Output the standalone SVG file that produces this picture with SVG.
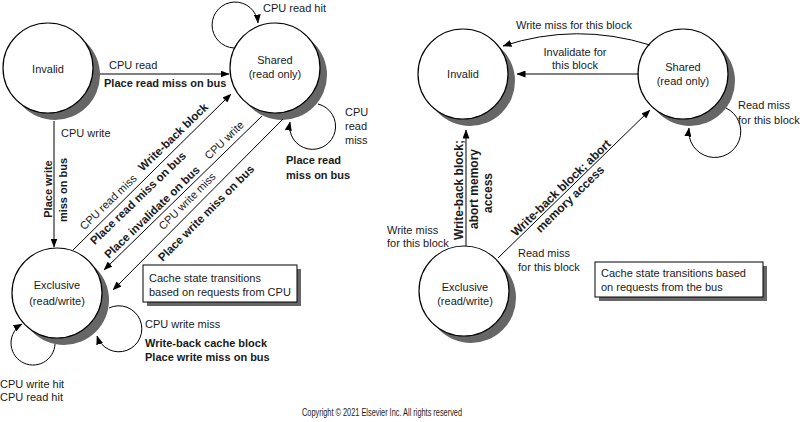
<svg xmlns="http://www.w3.org/2000/svg" width="800" height="422" viewBox="0 0 800 422">
<defs>
<marker id="ah" markerWidth="9" markerHeight="7" refX="8.5" refY="3.5" orient="auto" markerUnits="userSpaceOnUse"><path d="M0,0 L9,3.5 L0,7 z" fill="#000"/></marker>
</defs>
<style>
text{font-family:"Liberation Sans",Arial,sans-serif;font-size:11px;fill:#1a1a1a}
.b{font-weight:bold}
.b12{font-weight:bold;font-size:12px}
.bd{font-weight:bold;font-size:11.5px}
.m{text-anchor:middle}
.sh{fill:#666}
.st{fill:#fff;stroke:#000;stroke-width:1.2}
.c{fill:none;stroke:#000;stroke-width:1}
.a{marker-end:url(#ah)}
.box{fill:#fff;stroke:#000;stroke-width:1}
</style>
<rect width="800" height="422" fill="#fff"/>

<g id="L-invalid">
<circle class="sh" cx="55" cy="75" r="45"/>
<circle class="st" cx="48" cy="68" r="45"/>
<text class="m" x="48" y="73">Invalid</text>
</g>
<g id="L-shared">
<circle class="sh" cx="282" cy="75" r="45"/>
<circle class="st" cx="275" cy="68" r="45"/>
<text class="m" x="275" y="64">Shared</text>
<text class="m" x="275" y="78">(read only)</text>
</g>
<g id="L-exclusive">
<circle class="sh" cx="64" cy="300" r="45"/>
<circle class="st" cx="57" cy="293" r="45"/>
<text class="m" x="57" y="289">Exclusive</text>
<text class="m" x="57" y="305">(read/write)</text>
</g>
<g id="L-note">
<rect class="sh" x="147" y="269" width="154" height="37"/>
<rect class="box" x="143" y="265" width="154" height="37"/>
<text x="149" y="282">Cache state transitions</text>
<text x="149" y="296">based on requests from CPU</text>
</g>

<g id="R-invalid">
<circle class="sh" cx="470" cy="81" r="45"/>
<circle class="st" cx="463" cy="74" r="45"/>
<text class="m" x="463" y="78">Invalid</text>
</g>
<g id="R-shared">
<circle class="sh" cx="690" cy="81" r="45"/>
<circle class="st" cx="683" cy="74" r="45"/>
<text class="m" x="683" y="71">Shared</text>
<text class="m" x="683" y="85">(read only)</text>
</g>
<g id="R-exclusive">
<circle class="sh" cx="471" cy="298" r="45"/>
<circle class="st" cx="464" cy="291" r="45"/>
<text class="m" x="465" y="291">Exclusive</text>
<text class="m" x="465" y="305">(read/write)</text>
</g>
<g id="R-note">
<rect class="sh" x="599" y="266" width="168" height="35"/>
<rect class="box" x="595" y="262" width="168" height="35"/>
<text x="601" y="277">Cache state transitions based</text>
<text x="601" y="291">on requests from the bus</text>
</g>

<g id="connectors">
<path class="c a" d="M100,74 H229"/>
<path class="c a" d="M54,121 V247"/>
<path class="c a" d="M73,250 L231,94"/>
<path class="c a" d="M262,116 L104,270"/>
<path class="c a" d="M283,119 L113,290"/>
<path class="c a" d="M234,48 A23 23 0 1 1 258,23"/>
<path class="c a" d="M318,104 A23 23 0 1 1 290,122"/>
<path class="c a" d="M55,344 A22 22 0 1 1 22,324"/>
<path class="c a" d="M109,308 A23 23 0 1 1 97,336"/>

<path class="c a" d="M650,45 Q576,22 503,46"/>
<path class="c a" d="M639,74 H517"/>
<path class="c a" d="M466,246 V130"/>
<path class="c a" d="M498,258 L650,110"/>
<path class="c a" d="M726,108 A26 26 0 1 1 689,128"/>
</g>

<g id="labels">
<text x="263" y="12">CPU read hit</text>
<text x="109" y="69">CPU read</text>
<text class="b" x="104" y="87">Place read miss on bus</text>
<text x="61" y="137">CPU write</text>
<text class="b m" transform="translate(52,189) rotate(-90)">Place write</text>
<text class="b m" transform="translate(67,190) rotate(-90)">miss on bus</text>

<text class="m" transform="translate(108,202) rotate(-44)" y="4">CPU read miss</text>
<text class="bd m" transform="translate(173,137) rotate(-44)" y="4">Write-back block</text>
<text class="bd m" transform="translate(138,198) rotate(-44)" y="4">Place read miss on bus</text>
<text class="bd m" transform="translate(152,212) rotate(-44)" y="4">Place invalidate on bus</text>
<text class="m" transform="translate(224,140) rotate(-44)" y="4">CPU write</text>
<text class="m" transform="translate(187,201) rotate(-45)" y="4">CPU write miss</text>
<text class="bd m" transform="translate(206,213) rotate(-45)" y="4">Place write miss on bus</text>

<text x="345" y="116">CPU</text>
<text x="345" y="130">read</text>
<text x="345" y="144">miss</text>
<text class="b" x="286" y="164">Place read</text>
<text class="b" x="286" y="179">miss on bus</text>

<text x="145" y="328">CPU write miss</text>
<text class="b" x="145" y="347">Write-back cache block</text>
<text class="b" x="145" y="361">Place write miss on bus</text>
<text x="0" y="388">CPU write hit</text>
<text x="0" y="401">CPU read hit</text>

<text x="516" y="29">Write miss for this block</text>
<text class="m" x="575" y="56">Invalidate for</text>
<text class="m" x="575" y="69">this block</text>
<text x="738" y="109">Read miss</text>
<text x="738" y="124">for this block</text>
<text class="b12 m" transform="translate(463,190) rotate(-90)">Write-back block;</text>
<text class="b12 m" transform="translate(478,189) rotate(-90)">abort memory</text>
<text class="b12 m" transform="translate(492,193) rotate(-90)">access</text>
<text class="b12 m" transform="translate(561,188) rotate(-44)" y="4">Write-back block; abort</text>
<text class="b12 m" transform="translate(570,199) rotate(-44)" y="4">memory access</text>
<text x="387" y="234">Write miss</text>
<text x="387" y="247">for this block</text>
<text x="518" y="257">Read miss</text>
<text x="518" y="271">for this block</text>

<text class="m" x="382" y="416" style="font-size:10.5px" textLength="160" lengthAdjust="spacingAndGlyphs">Copyright © 2021 Elsevier Inc. All rights reserved</text>
</g>
</svg>
